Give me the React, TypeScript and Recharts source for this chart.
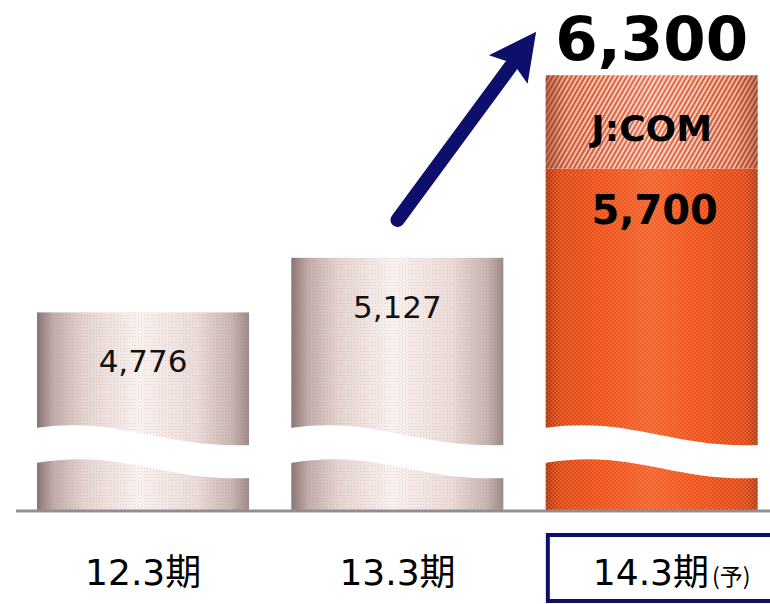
import React from 'react';
import { BarChart, Bar, XAxis, YAxis, LabelList, ReferenceLine } from 'recharts';

// ---- data ----
const categories = ['12.3期', '13.3期', '14.3期'];
const baseValues = [4776, 5127, 5700];
const jcomValues = [0, 0, 600];
const forecastFlags = [false, false, true];
const forecastSuffix = '(予)';
const segmentLabel = 'J:COM';
const yDomain: [number, number] = [3500, 6700];
const arrowFromValue = 5370;
const arrowToValue = 7590;

const data = categories.map((name, i) => ({
  name,
  base: baseValues[i],
  jcom: jcomValues[i],
  total: baseValues[i] + jcomValues[i],
}));

const NAVY = '#0e0e6c';
const FONT = '"DejaVu Sans", "Noto Sans CJK JP", sans-serif';
const fmt = (v: number) => v.toLocaleString('en-US');

const BaseShape = (props: any) => {
  const { x, y, width, index, background } = props;
  const bottom = background ? background.y + background.height : y + props.height;
  const h = bottom - y;
  if (!(h > 0)) return null;
  const orange = index === 2;
  const x0 = x;
  const x1 = x + width;
  const w = width;
  const B = bottom;
  const wave = `M ${x0 - 1} ${B - 83} C ${x0 + 0.4 * w} ${B - 95} ${x0 + 0.6 * w} ${B - 62} ${x1 + 1} ${B - 66} L ${x1 + 1} ${B - 33} C ${x0 + 0.6 * w} ${B - 29} ${x0 + 0.4 * w} ${B - 63} ${x0 - 1} ${B - 48} Z`;
  return (
    <g>
      <rect x={x} y={y} width={width} height={h} fill={orange ? 'url(#gOrange)' : 'url(#gLight)'} />
      <rect x={x} y={y} width={width} height={h} fill={orange ? 'url(#pOrange)' : 'url(#pLight)'} />
      <path d={wave} fill="#ffffff" />
    </g>
  );
};

const JcomShape = (props: any) => {
  const { x, y, width, height } = props;
  if (!(height > 0)) return null;
  return (
    <g>
      <rect x={x} y={y} width={width} height={height} fill="url(#pStripe)" />
      <rect x={x} y={y} width={width} height={height} fill="url(#gShade)" />
    </g>
  );
};

const BaseLabel = (props: any) => {
  const { x, y, width, index, value } = props;
  const cx = x + width / 2;
  if (index === 2) {
    return (
      <text x={cx + 3} y={y + 55} textAnchor="middle" fontFamily={FONT} fontWeight="bold" fontSize={40} fill="#000">
        {fmt(value)}
      </text>
    );
  }
  return (
    <text x={cx} y={y + 60} textAnchor="middle" fontFamily={FONT} fontSize={31} fill="#111">
      {fmt(value)}
    </text>
  );
};

const JcomLabel = (props: any) => {
  const { x, y, width, height, index, value } = props;
  if (!value) return null;
  const cx = x + width / 2;
  return (
    <g>
      <text x={cx} y={y + height / 2 + 19} textAnchor="middle" fontFamily={FONT} fontWeight="bold" fontSize={36} fill="#000">
        {segmentLabel}
      </text>
      <text x={cx} y={y - 15} textAnchor="middle" fontFamily={FONT} fontWeight="bold" fontSize={61} fill="#000">
        {fmt(data[index].total)}
      </text>
    </g>
  );
};

const Tick = (props: any) => {
  const { x, y, payload } = props;
  const i = categories.indexOf(payload.value);
  if (forecastFlags[i]) {
    return (
      <g>
        <rect x={x - 104} y={y + 16} width={300} height={66} fill="none" stroke={NAVY} strokeWidth={4} />
        <text x={x - 59} y={y + 66} textAnchor="start" fontFamily={FONT} fill="#000">
          <tspan fontSize={36}>{payload.value}</tspan>
          <tspan fontSize={23} fontFamily='"Noto Sans CJK JP", sans-serif' dx={3}>{forecastSuffix}</tspan>
        </text>
      </g>
    );
  }
  return (
    <text x={x} y={y + 66} textAnchor="middle" fontFamily={FONT} fontSize={36} fill="#000">
      {payload.value}
    </text>
  );
};

const ARROW_FRACTION = 0.545;
const Arrow = (props: any) => {
  const { x1, y1, x2, y2 } = props;
  if ([x1, y1, x2, y2].some((v) => typeof v !== 'number' || isNaN(v))) return null;
  const dx = x2 - x1;
  const dy = y2 - y1;
  const len = Math.sqrt(dx * dx + dy * dy);
  const ux = dx / len;
  const uy = dy / len;
  const L = len * ARROW_FRACTION;
  const tx = x1 + ux * L;
  const ty = y1 + uy * L;
  const headLen = 47;
  const headHalf = 24;
  const bx = tx - ux * headLen;
  const by = ty - uy * headLen;
  const px = -uy;
  const py = ux;
  return (
    <g>
      <line x1={x1} y1={y1} x2={bx + ux * 4} y2={by + uy * 4} stroke={NAVY} strokeWidth={14} strokeLinecap="round" />
      <path
        d={`M ${tx} ${ty} L ${bx + px * headHalf} ${by + py * headHalf} L ${bx + ux * 8} ${by + uy * 8} L ${bx - px * headHalf} ${by - py * headHalf} Z`}
        fill={NAVY}
      />
    </g>
  );
};

export default function App() {
  return (
    <div style={{ position: 'absolute', left: 0, top: 0, width: 770, height: 604, overflow: 'hidden', background: '#fff' }}>
      <BarChart
        width={800}
        height={604}
        data={data}
        margin={{ top: 13, right: 21, bottom: 0, left: 16 }}
        barSize={212}
      >
        <defs>
          <linearGradient id="gLight" x1="0" y1="0" x2="1" y2="0">
            <stop offset="0%" stopColor="#887471" />
            <stop offset="8%" stopColor="#c2aeaa" />
            <stop offset="22%" stopColor="#e6d6d2" />
            <stop offset="48%" stopColor="#fcf6f3" />
            <stop offset="75%" stopColor="#eddfdb" />
            <stop offset="92%" stopColor="#c9b7b3" />
            <stop offset="100%" stopColor="#9c8a87" />
          </linearGradient>
          <pattern id="pLight" width="3" height="3" patternUnits="userSpaceOnUse">
            <rect x="0" y="0" width="1" height="1" fill="rgba(190,110,110,0.28)" />
            <rect x="1.5" y="1.5" width="1" height="1" fill="rgba(150,120,120,0.18)" />
          </pattern>
          <linearGradient id="gOrange" x1="0" y1="0" x2="1" y2="0">
            <stop offset="0%" stopColor="#b0360f" />
            <stop offset="6%" stopColor="#dc4516" />
            <stop offset="28%" stopColor="#ee501c" />
            <stop offset="50%" stopColor="#f3622f" />
            <stop offset="72%" stopColor="#ee501c" />
            <stop offset="94%" stopColor="#de4718" />
            <stop offset="100%" stopColor="#b43c18" />
          </linearGradient>
          <pattern id="pOrange" width="4" height="4" patternUnits="userSpaceOnUse">
            <rect x="0" y="0" width="2" height="2" fill="rgba(255,180,120,0.25)" />
            <rect x="2" y="2" width="2" height="2" fill="rgba(255,180,120,0.25)" />
          </pattern>
          <pattern id="pStripe" width="4" height="8" patternUnits="userSpaceOnUse" patternTransform="rotate(30)">
            <rect x="0" y="0" width="4" height="8" fill="#fbe4d6" />
            <rect x="0" y="0" width="2.2" height="8" fill="#e45a34" />
          </pattern>
          <linearGradient id="gShade" x1="0" y1="0" x2="1" y2="0">
            <stop offset="0%" stopColor="#7a2a10" stopOpacity={0.55} />
            <stop offset="10%" stopColor="#7a2a10" stopOpacity={0.15} />
            <stop offset="50%" stopColor="#ffffff" stopOpacity={0.12} />
            <stop offset="90%" stopColor="#7a2a10" stopOpacity={0.15} />
            <stop offset="100%" stopColor="#7a2a10" stopOpacity={0.5} />
          </linearGradient>
        </defs>
        <XAxis
          dataKey="name"
          height={93}
          axisLine={{ stroke: '#8f8f8f', strokeWidth: 3 }}
          tickLine={false}
          tick={<Tick />}
          interval={0}
        />
        <YAxis hide domain={yDomain} allowDataOverflow type="number" />
        <Bar dataKey="base" stackId="s" shape={<BaseShape />} isAnimationActive={false}>
          <LabelList dataKey="base" content={<BaseLabel />} />
        </Bar>
        <Bar dataKey="jcom" stackId="s" shape={<JcomShape />} isAnimationActive={false}>
          <LabelList dataKey="jcom" content={<JcomLabel />} />
        </Bar>
        <ReferenceLine
          segment={[
            { x: categories[1], y: arrowFromValue },
            { x: categories[2], y: arrowToValue },
          ]}
          ifOverflow="visible"
          shape={<Arrow />}
        />
      </BarChart>
    </div>
  );
}
